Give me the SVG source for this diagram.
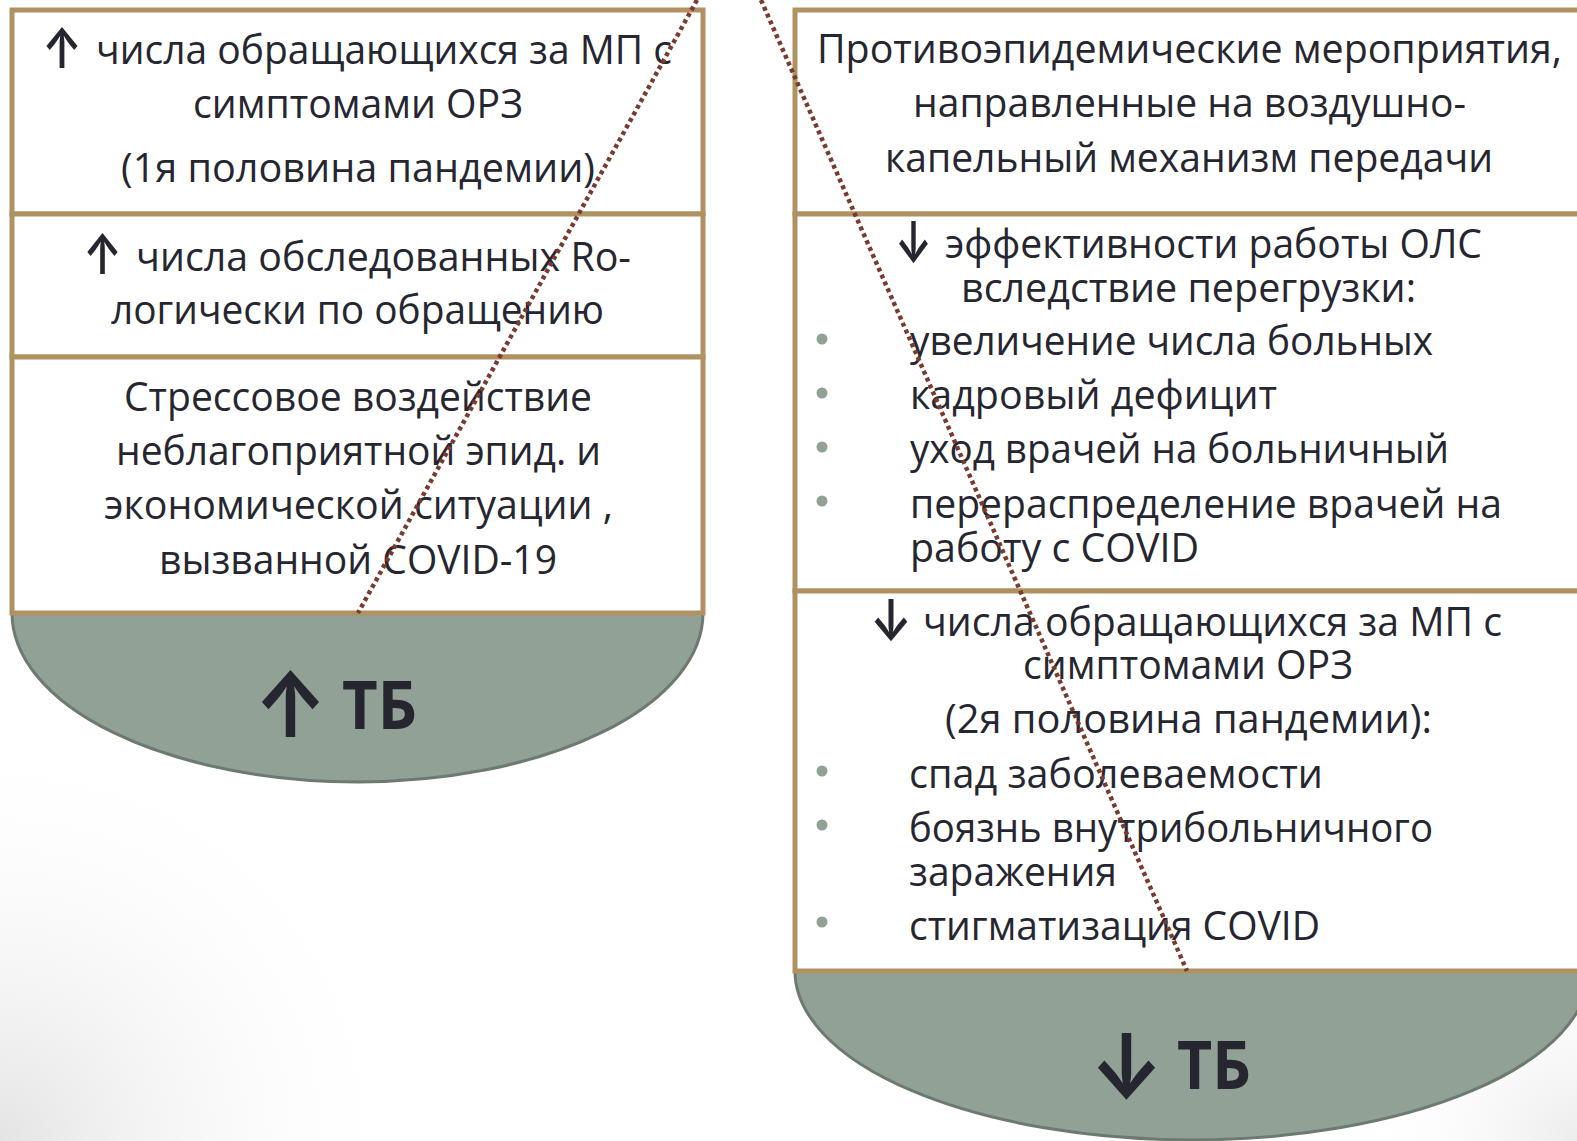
<svg xmlns="http://www.w3.org/2000/svg" width="1577" height="1141" viewBox="0 0 1577 1141">
<defs>
<radialGradient id="bgL" cx="0" cy="1141" r="420" gradientUnits="userSpaceOnUse">
<stop offset="0" stop-color="#E4E4E4"/>
<stop offset="1" stop-color="#FFFFFF" stop-opacity="0"/>
</radialGradient>
<radialGradient id="bgR" cx="1577" cy="1141" r="220" gradientUnits="userSpaceOnUse">
<stop offset="0" stop-color="#ECECEC"/>
<stop offset="1" stop-color="#FFFFFF" stop-opacity="0"/>
</radialGradient>
</defs>
<style>
.box{fill:#FFFFFF;stroke:#B09162;stroke-width:5}
.bowl{fill:#91A196;stroke:#6D7A6F;stroke-width:3}
.t{font-family:"Open Sans","Noto Sans",sans-serif;font-size:40px;fill:#262631}
.ar{font-family:Inter,"DejaVu Sans",sans-serif;font-size:57px;font-weight:600;fill:#262631}
.arb{font-family:Inter,"DejaVu Sans",sans-serif;font-size:90px;font-weight:700;fill:#262631}
.tb{font-family:"Open Sans","Noto Sans",sans-serif;font-size:66px;font-weight:700;fill:#262631}
.dot{fill:#91A196}
.dl{stroke:#7A3A2E;stroke-width:4.5;stroke-dasharray:4 3.5;fill:none}
</style>
<rect width="1577" height="1141" fill="#FFFFFF"/>
<rect width="1577" height="1141" fill="url(#bgL)"/>
<rect width="1577" height="1141" fill="url(#bgR)"/>

<g id="tb-up">
<path class="bowl" d="M12,613 A345.5,169 0 0 0 703,613 Z"/>
<text class="arb" x="254" y="737" textLength="73" lengthAdjust="spacingAndGlyphs">↑</text>
<text class="tb" x="342" y="729" textLength="75" lengthAdjust="spacingAndGlyphs">ТБ</text>
</g>

<g id="tb-down">
<path class="bowl" d="M795,971 A397,169 0 0 0 1589,971 Z"/>
<text class="arb" x="1090" y="1098" textLength="73" lengthAdjust="spacingAndGlyphs">↓</text>
<text class="tb" x="1177" y="1089" textLength="74" lengthAdjust="spacingAndGlyphs">ТБ</text>
</g>

<g id="left-1">
<rect class="box" x="12" y="10" width="691" height="204"/>
<text class="ar" x="42" y="68" textLength="40" lengthAdjust="spacingAndGlyphs">↑</text>
<text class="t" x="96" y="64" textLength="576" lengthAdjust="spacingAndGlyphs">числа обращающихся за МП с</text>
<text class="t" x="193" y="118" textLength="330" lengthAdjust="spacingAndGlyphs">симптомами ОРЗ</text>
<text class="t" x="121" y="182" textLength="474" lengthAdjust="spacingAndGlyphs">(1я половина пандемии)</text>
</g>

<g id="left-2">
<rect class="box" x="12" y="214" width="691" height="143"/>
<text class="ar" x="83" y="274" textLength="39" lengthAdjust="spacingAndGlyphs">↑</text>
<text class="t" x="136" y="271" textLength="495" lengthAdjust="spacingAndGlyphs">числа обследованных Ro-</text>
<text class="t" x="111" y="324" textLength="493" lengthAdjust="spacingAndGlyphs">логически по обращению</text>
</g>

<g id="left-3">
<rect class="box" x="12" y="357" width="691" height="256"/>
<text class="t" x="124" y="411" textLength="468" lengthAdjust="spacingAndGlyphs">Стрессовое воздействие</text>
<text class="t" x="116" y="465" textLength="485" lengthAdjust="spacingAndGlyphs">неблагоприятной эпид. и</text>
<text class="t" x="104" y="519" textLength="509" lengthAdjust="spacingAndGlyphs">экономической ситуации ,</text>
<text class="t" x="159" y="574" textLength="398" lengthAdjust="spacingAndGlyphs">вызванной COVID-19</text>
</g>

<g id="right-1">
<rect class="box" x="795" y="10" width="800" height="204"/>
<text class="t" x="817" y="63" textLength="745" lengthAdjust="spacingAndGlyphs">Противоэпидемические мероприятия,</text>
<text class="t" x="913" y="117" textLength="553" lengthAdjust="spacingAndGlyphs">направленные на воздушно-</text>
<text class="t" x="885" y="172" textLength="608" lengthAdjust="spacingAndGlyphs">капельный механизм передачи</text>
</g>

<g id="right-2">
<rect class="box" x="795" y="214" width="800" height="377"/>
<text class="ar" x="895" y="262" textLength="37" lengthAdjust="spacingAndGlyphs">↓</text>
<text class="t" x="945" y="258" textLength="537" lengthAdjust="spacingAndGlyphs">эффективности работы ОЛС</text>
<text class="t" x="961" y="302" textLength="455" lengthAdjust="spacingAndGlyphs">вследствие перегрузки:</text>
<circle class="dot" cx="822" cy="339" r="5.5"/>
<circle class="dot" cx="822" cy="393" r="5.5"/>
<circle class="dot" cx="822" cy="447" r="5.5"/>
<circle class="dot" cx="822" cy="501" r="5.5"/>
<text class="t" x="910" y="355" textLength="523" lengthAdjust="spacingAndGlyphs">увеличение числа больных</text>
<text class="t" x="910" y="409" textLength="367" lengthAdjust="spacingAndGlyphs">кадровый дефицит</text>
<text class="t" x="910" y="463" textLength="539" lengthAdjust="spacingAndGlyphs">уход врачей на больничный</text>
<text class="t" x="910" y="518" textLength="592" lengthAdjust="spacingAndGlyphs">перераспределение врачей на</text>
<text class="t" x="910" y="562" textLength="289" lengthAdjust="spacingAndGlyphs">работу с COVID</text>
</g>

<g id="right-3">
<rect class="box" x="795" y="591" width="800" height="380"/>
<text class="ar" x="870" y="640" textLength="42" lengthAdjust="spacingAndGlyphs">↓</text>
<text class="t" x="923" y="636" textLength="579" lengthAdjust="spacingAndGlyphs">числа обращающихся за МП с</text>
<text class="t" x="1023" y="679" textLength="330" lengthAdjust="spacingAndGlyphs">симптомами ОРЗ</text>
<text class="t" x="945" y="733" textLength="487" lengthAdjust="spacingAndGlyphs">(2я половина пандемии):</text>
<circle class="dot" cx="822" cy="771" r="5.5"/>
<circle class="dot" cx="822" cy="825" r="5.5"/>
<circle class="dot" cx="822" cy="922" r="5.5"/>
<text class="t" x="909" y="788" textLength="414" lengthAdjust="spacingAndGlyphs">спад заболеваемости</text>
<text class="t" x="909" y="842" textLength="524" lengthAdjust="spacingAndGlyphs">боязнь внутрибольничного</text>
<text class="t" x="909" y="886" textLength="208" lengthAdjust="spacingAndGlyphs">заражения</text>
<text class="t" x="909" y="940" textLength="411" lengthAdjust="spacingAndGlyphs">стигматизация COVID</text>
</g>

<g id="connectors">
<line class="dl" x1="697" y1="0" x2="358" y2="613"/>
<line class="dl" x1="761" y1="0" x2="1187" y2="971"/>
</g>
</svg>
